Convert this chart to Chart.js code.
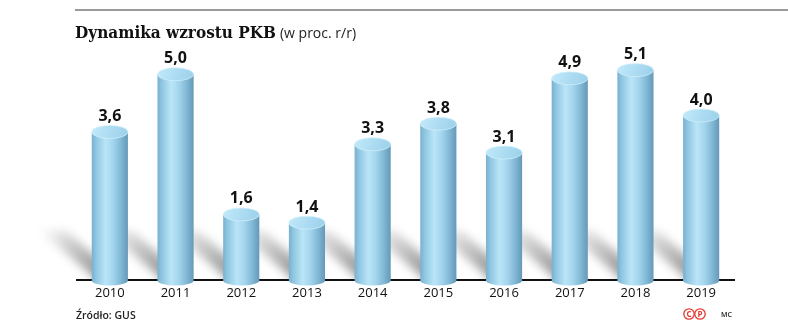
<!DOCTYPE html>
<html>
<head>
<meta charset="utf-8">
<script src="https://cdn.jsdelivr.net/npm/chart.js@4"></script>
<style>
html,body{margin:0;padding:0;background:#fff;}
canvas{display:block;}
</style>
</head>
<body>
<canvas id="c" width="788" height="335"></canvas>
<script>
const years = ['2010','2011','2012','2013','2014','2015','2016','2017','2018','2019'];
const growth = [3.6, 5.0, 1.6, 1.4, 3.3, 3.8, 3.1, 4.9, 5.1, 4.0];
const titleMain = 'Dynamika wzrostu PKB';
const titleSub = '(w proc. r/r)';
const sourceText = 'Źródło: GUS';
const authorText = 'MC';

const fmt = v => v.toFixed(1).replace('.', ',');

const cylinderPlugin = {
  id: 'cylinders',
  beforeDatasetsDraw(chart) {
    const ctx = chart.ctx;
    const meta = chart.getDatasetMeta(0);
    const area = chart.chartArea;
    ctx.save();
    ctx.beginPath();
    ctx.rect(area.left - 80, 0, area.right - area.left + 80, area.bottom - 1);
    ctx.clip();
    ctx.filter = 'blur(5px)';
    meta.data.forEach(bar => {
      const rx = bar.width / 2;
      const xL = bar.x - rx, xR = bar.x + rx;
      const base = bar.base;
      const dx = 58, dy = 50;
      const g = ctx.createLinearGradient(xL, base, xL - dx, base - dy);
      g.addColorStop(0, 'rgba(60,60,60,0.55)');
      g.addColorStop(0.45, 'rgba(90,90,90,0.35)');
      g.addColorStop(1, 'rgba(120,120,120,0)');
      ctx.fillStyle = g;
      ctx.beginPath();
      ctx.moveTo(xL + 6, base);
      ctx.lineTo(xR - 4, base);
      ctx.lineTo(xR - 4 - dx, base - dy);
      ctx.lineTo(xL + 6 - dx, base - dy);
      ctx.closePath();
      ctx.fill();
    });
    ctx.restore();
  },
  afterDatasetsDraw(chart) {
    const ctx = chart.ctx;
    const meta = chart.getDatasetMeta(0);
    const ry = 6.5;
    meta.data.forEach((bar, i) => {
      const rx = bar.width / 2;
      const cx = bar.x;
      const xL = cx - rx, xR = cx + rx;
      const top = bar.y;
      const base = bar.base;
      const g = ctx.createLinearGradient(xL, 0, xR, 0);
      g.addColorStop(0, '#78b0cf');
      g.addColorStop(0.12, '#8fc6e1');
      g.addColorStop(0.38, '#bae5f7');
      g.addColorStop(0.58, '#a5d6ee');
      g.addColorStop(0.8, '#82b9d6');
      g.addColorStop(1, '#6499b8');
      ctx.save();
      ctx.fillStyle = g;
      ctx.beginPath();
      ctx.moveTo(xL, top);
      ctx.lineTo(xL, base);
      ctx.ellipse(cx, base, rx, ry * 0.8, 0, Math.PI, 0, true);
      ctx.lineTo(xR, top);
      ctx.closePath();
      ctx.fill();
      const tg = ctx.createLinearGradient(xL, top - ry, xR, top + ry);
      tg.addColorStop(0, '#c2eafa');
      tg.addColorStop(0.5, '#addcf2');
      tg.addColorStop(1, '#9bd0ea');
      ctx.fillStyle = tg;
      ctx.beginPath();
      ctx.ellipse(cx, top, rx, ry, 0, 0, Math.PI * 2);
      ctx.fill();
      ctx.strokeStyle = 'rgba(210,240,252,0.9)';
      ctx.lineWidth = 0.8;
      ctx.stroke();
      ctx.fillStyle = '#111';
      ctx.font = 'bold 16px "Open Sans", sans-serif';
      ctx.textAlign = 'center';
      ctx.textBaseline = 'middle';
      ctx.fillText(fmt(growth[i]), cx, top - ry - 9);
      ctx.restore();
    });
  },
  afterDraw(chart) {
    const ctx = chart.ctx;
    ctx.save();
    ctx.strokeStyle = '#9a9a9a';
    ctx.lineWidth = 2;
    ctx.beginPath();
    ctx.moveTo(75, 10);
    ctx.lineTo(788, 10);
    ctx.stroke();
    ctx.fillStyle = '#111';
    ctx.textBaseline = 'alphabetic';
    ctx.textAlign = 'left';
    ctx.font = 'bold 17px "DejaVu Serif Condensed", "DejaVu Serif", serif';
    let w = ctx.measureText(titleMain).width;
    if (w > 205) {
      ctx.font = 'bold 15px "DejaVu Serif", serif';
      w = ctx.measureText(titleMain).width;
    }
    ctx.fillText(titleMain, 75, 38);
    ctx.font = '14px "Open Sans", sans-serif';
    ctx.fillStyle = '#222';
    ctx.fillText(titleSub, 75 + w + 4, 38);
    ctx.font = '600 10.5px "Open Sans", sans-serif';
    ctx.fillStyle = '#222';
    ctx.textBaseline = 'middle';
    ctx.fillText(sourceText, 76, 316);
    ctx.strokeStyle = '#e23a32';
    ctx.fillStyle = '#e23a32';
    ctx.lineWidth = 1.3;
    [689, 700].forEach((x, k) => {
      ctx.beginPath();
      ctx.arc(x, 314, 5.2, 0, Math.PI * 2);
      ctx.stroke();
      ctx.font = 'bold 8px "Open Sans", sans-serif';
      ctx.textAlign = 'center';
      ctx.fillText(k === 0 ? 'C' : 'P', x, 314.5);
    });
    ctx.fillStyle = '#222';
    ctx.font = '600 7px "Open Sans", sans-serif';
    ctx.textAlign = 'left';
    ctx.fillText(authorText, 721, 315);
    ctx.restore();
  }
};

new Chart(document.getElementById('c'), {
  type: 'bar',
  data: {
    labels: years,
    datasets: [{
      data: growth,
      backgroundColor: 'rgba(0,0,0,0)',
      borderWidth: 0,
      barPercentage: 0.55,
      categoryPercentage: 1.0
    }]
  },
  options: {
    responsive: false,
    animation: false,
    devicePixelRatio: 1,
    layout: { padding: { top: 33, left: 77, right: 54, bottom: 29 } },
    plugins: { legend: { display: false }, tooltip: { enabled: false }, title: { display: false } },
    scales: {
      x: {
        grid: { display: false, drawTicks: false, tickLength: 0 },
        border: { display: true, color: '#111', width: 2 },
        ticks: { color: '#111', padding: 5, font: { family: 'Open Sans', size: 13 } }
      },
      y: { display: false, min: 0, max: 6 }
    }
  },
  plugins: [cylinderPlugin]
});
</script>
</body>
</html>
